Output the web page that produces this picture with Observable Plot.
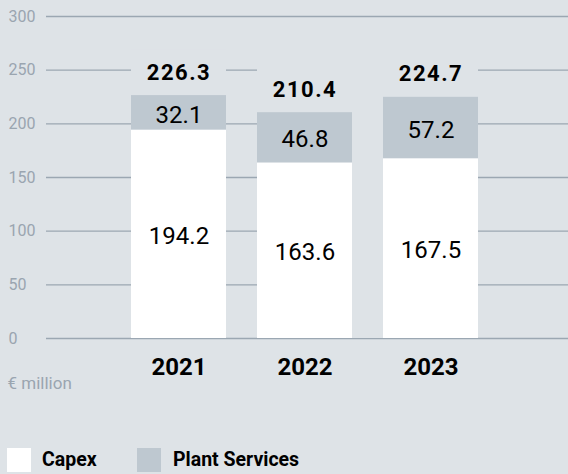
<!DOCTYPE html>
<html><head><meta charset="utf-8">
<script src="https://cdn.jsdelivr.net/npm/d3@7"></script>
<script src="https://cdn.jsdelivr.net/npm/@observablehq/plot@0.6"></script>
<style>
html,body{margin:0;padding:0;background:#dee3e7;width:568px;height:474px;overflow:hidden;font-family:Roboto,sans-serif}
#chart{position:relative;width:568px;height:474px}
#chart svg{position:absolute;left:0;top:0}
.sw{position:absolute;width:24px;height:24px;top:448px}
.lt{position:absolute;top:460px;transform:translateY(-50%);font-weight:bold;font-size:19.5px;color:#000;line-height:1;white-space:nowrap}
</style></head><body><div id="chart"></div>
<script>
const years = ["2021", "2022", "2023"];
const seriesNames = ["Capex", "Plant Services"];
const capex = [194.2, 163.6, 167.5];
const plantServices = [32.1, 46.8, 57.2];
const totals = [226.3, 210.4, 224.7];
const yTicks = [0, 50, 100, 150, 200, 250, 300];
const unitLabel = "€ million";

const bg = "#dee3e7";
const colors = ["#ffffff", "#bec8d0"];

const rows = years.flatMap((yr, i) => [
  {year: yr, series: seriesNames[0], value: capex[i], mid: capex[i] / 2},
  {year: yr, series: seriesNames[1], value: plantServices[i], mid: capex[i] + plantServices[i] / 2}
]);
const tot = years.map((yr, i) => ({year: yr, total: totals[i]}));

const plot = Plot.plot({
  width: 568, height: 400,
  marginTop: 16, marginBottom: 62, marginLeft: 46, marginRight: 0,
  style: {background: "transparent", fontFamily: "Roboto, sans-serif", overflow: "visible"},
  x: {domain: years, range: [100, 509], padding: 0.246, axis: null},
  y: {domain: [0, 300], axis: null},
  color: {domain: seriesNames, range: colors},
  marks: [
    Plot.ruleY(yTicks, {y: d => d, stroke: "#9ba7b2", strokeWidth: 1.3}),
    Plot.text(yTicks, {y: d => d, text: d => String(d), frameAnchor: "left", textAnchor: "start", dx: -38, fill: "#9aa5b0", fontSize: 16}),
    Plot.barY(tot, {x: "year", y: "total", fill: bg, insetTop: -46}),
    Plot.barY(tot, {filter: (d, i) => i === 1, x: "year", y: "total", fill: bg, insetTop: -46, insetRight: -32}),
    Plot.barY(rows, {x: "year", y: "value", fill: "series"}),
    Plot.text(rows, {x: "year", y: "mid", text: d => d.value.toFixed(1), dy: 2, fontSize: 24, fill: "#000"}),
    Plot.text(tot, {x: "year", y: "total", text: d => d.total.toFixed(1), dy: -23, fontSize: 22, fontWeight: "bold", fill: "#000"}),
    Plot.text(years, {x: d => d, y: () => 0, dy: 29, fontSize: 24, fontWeight: "bold", fill: "#000"}),
    Plot.text([unitLabel], {frameAnchor: "bottom-left", textAnchor: "start", lineAnchor: "middle", dx: -39, dy: 45, fill: "#9aa5b0", fontSize: 17})
  ]
});
d3.select(plot).selectAll('g[font-size="22"]').attr("letter-spacing", "1.5");
const chart = document.getElementById("chart");
chart.appendChild(plot);

const legendPos = [{sx: 7, tx: 42}, {sx: 137, tx: 173}];
seriesNames.forEach((name, i) => {
  const sw = document.createElement("div");
  sw.className = "sw"; sw.style.left = legendPos[i].sx + "px"; sw.style.background = colors[i];
  chart.appendChild(sw);
  const t = document.createElement("div");
  t.className = "lt"; t.style.left = legendPos[i].tx + "px"; t.textContent = name;
  chart.appendChild(t);
});
</script></body></html>
